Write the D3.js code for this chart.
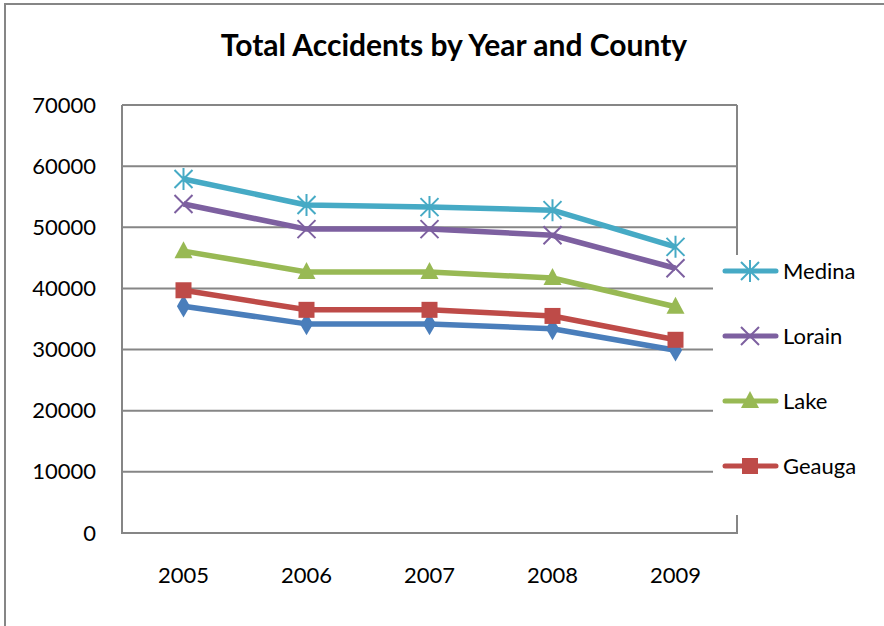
<!DOCTYPE html>
<html><head><meta charset="utf-8">
<script src="https://d3js.org/d3.v7.min.js"></script>
<style>body{margin:0;background:#fff}svg{display:block}</style>
</head><body>
<svg id="c" width="884" height="626"></svg>
<script>
const years = ["2005","2006","2007","2008","2009"];
const yTicks = [0,10000,20000,30000,40000,50000,60000,70000];
const seriesNames = ["Cuyahoga","Geauga","Lake","Lorain","Medina"];
const cuyahoga = [37100,34200,34200,33400,29900];
const geauga   = [39700,36500,36500,35500,31600];
const lake     = [46100,42700,42700,41700,37000];
const lorain   = [53800,49700,49700,48700,43300];
const medina   = [57900,53650,53300,52800,46800];
const colors = ["#4A7EBB","#BE4B48","#98B954","#7D60A0","#46AAC5"];
const markers = ["diamond","square","triangle","x","star"];

const values = [cuyahoga, geauga, lake, lorain, medina];
const svg = d3.select("#c");
const font = "Lato, 'Open Sans', sans-serif";
const L=122,R=737,T=105,B=533;
const x = d3.scaleBand().domain(years).range([L,R]);
const y = d3.scaleLinear().domain([0,70000]).range([B,T]);

// outer frame
svg.append("rect").attr("x",5).attr("y",4).attr("width",900).attr("height",640)
  .attr("fill","#fff").attr("stroke","#868686").attr("stroke-width",2);

svg.append("text").attr("x",454).attr("y",56).attr("text-anchor","middle")
  .attr("font-family",font).attr("font-weight","bold").attr("font-size",30)
  .text("Total Accidents by Year and County");

// gridlines
svg.append("g").selectAll("line").data(yTicks).join("line")
  .attr("x1",L).attr("x2",R).attr("y1",d=>y(d)).attr("y2",d=>y(d))
  .attr("stroke","#868686").attr("stroke-width",2);
svg.append("line").attr("x1",L).attr("x2",L).attr("y1",T).attr("y2",B+1).attr("stroke","#868686").attr("stroke-width",2);
svg.append("line").attr("x1",R).attr("x2",R).attr("y1",T).attr("y2",B+1).attr("stroke","#868686").attr("stroke-width",2);

// y axis labels
const ya = svg.append("g").attr("transform",`translate(${L},0)`)
  .call(d3.axisLeft(y).tickValues(yTicks).tickSize(0).tickPadding(26).tickFormat(d3.format("d")));
ya.select(".domain").remove();
ya.selectAll("text").attr("font-family",font).attr("font-size",22).attr("fill","#000");
// x axis labels
const xa = svg.append("g").attr("transform",`translate(0,${B})`)
  .call(d3.axisBottom(x).tickSize(0).tickPadding(34));
xa.select(".domain").remove();
xa.selectAll("text").attr("font-family",font).attr("font-size",22).attr("fill","#000");

function drawMarker(g, type, color, cx, cy){
  if(type==="diamond"){
    g.append("path").attr("d",d3.symbol(d3.symbolDiamond,150)()).attr("transform",`translate(${cx},${cy})`).attr("fill",color);
  } else if(type==="square"){
    g.append("rect").attr("x",cx-8).attr("y",cy-8).attr("width",16).attr("height",16).attr("fill",color);
  } else if(type==="triangle"){
    g.append("path").attr("d",`M${cx},${cy-10}L${cx+9},${cy+7}L${cx-9},${cy+7}Z`).attr("fill",color);
  } else if(type==="x"){
    g.append("path").attr("d",`M${cx-9},${cy-9}L${cx+9},${cy+9}M${cx-9},${cy+9}L${cx+9},${cy-9}`).attr("stroke",color).attr("stroke-width",2);
  } else if(type==="star"){
    g.append("path").attr("d",`M${cx-9},${cy-9}L${cx+9},${cy+9}M${cx-9},${cy+9}L${cx+9},${cy-9}M${cx},${cy-11}L${cx},${cy+11}`).attr("stroke",color).attr("stroke-width",2);
  }
}

const line = d3.line().x((d,i)=>x(years[i])+x.bandwidth()/2).y(d=>y(d));
values.forEach((vals,si)=>{
  const g = svg.append("g");
  g.append("path").datum(vals).attr("d",line).attr("fill","none")
    .attr("stroke",colors[si]).attr("stroke-width",5.5).attr("stroke-linejoin","round");
  vals.forEach((v,i)=>drawMarker(g,markers[si],colors[si],x(years[i])+x.bandwidth()/2,y(v)));
});

// legend (covers part of plot area)
svg.append("rect").attr("x",713).attr("y",255).attr("width",180).attr("height",260).attr("fill","#fff");
const legIdx = [4,3,2,1];
legIdx.forEach((si,k)=>{
  const ly = 271 + k*65;
  const g = svg.append("g");
  g.append("line").attr("x1",725).attr("x2",776).attr("y1",ly).attr("y2",ly)
    .attr("stroke",colors[si]).attr("stroke-width",5).attr("stroke-linecap","round");
  drawMarker(g,markers[si],colors[si],750,ly);
  g.append("text").attr("x",783).attr("y",ly+8).attr("font-family",font).attr("font-size",22).text(seriesNames[si]);
});
</script>
</body></html>
